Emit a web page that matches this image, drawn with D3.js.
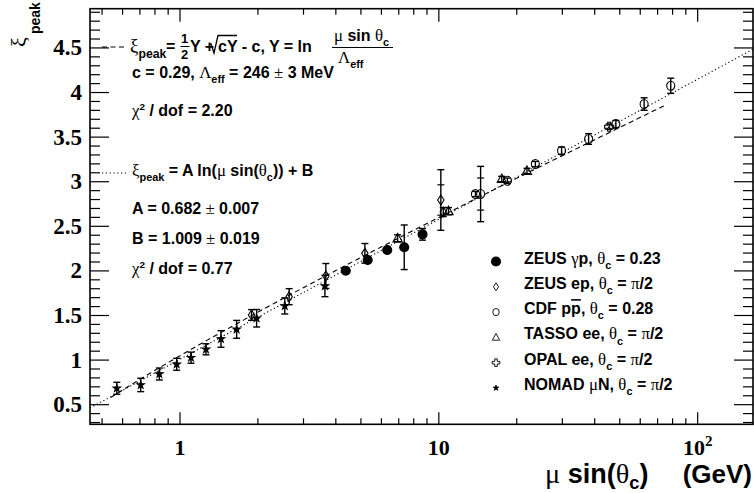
<!DOCTYPE html>
<html><head><meta charset="utf-8">
<script src="https://cdn.jsdelivr.net/npm/d3@7"></script>
<style>body{margin:0;background:#fff} svg{display:block}</style>
</head><body>
<svg id="c" width="754" height="493"></svg>
<script>
// ---------------- data ----------------
const zeusGpX = [4.37, 5.31, 6.32, 7.35, 8.65];
const zeusGpY = [2.002, 2.122, 2.234, 2.265, 2.410];
const zeusGpErr = [0, 0, 0, 0.25, 0.065];

const zeusEpX = [1.89, 2.64, 3.66, 5.18, 10.18, 10.4];
const zeusEpY = [1.506, 1.711, 1.943, 2.197, 2.795, 2.66];
const zeusEpErr = [0.06, 0.09, 0.14, 0.11, 0.34, 0.05];
const zeusEpStat = [0, 0, 0, 0, 0.17, 0];

const cdfX = [13.85, 14.5, 18.4, 23.6, 29.8, 37.9, 48.3, 62.1, 78.7];
const cdfY = [2.862, 2.862, 3.011, 3.198, 3.348, 3.479, 3.647, 3.871, 4.076];
const cdfErr = [0.03, 0.31, 0.03, 0.03, 0.04, 0.06, 0.04, 0.07, 0.085];
const cdfStat = [0, 0.18, 0, 0, 0, 0, 0, 0, 0];

const tassoX = [6.93, 10.9, 17.5, 21.9];
const tassoY = [2.365, 2.67, 3.03, 3.12];
const tassoErr = [0.04, 0.04, 0.03, 0.03];

const opalX = [45.5];
const opalY = [3.617];
const opalErr = [0.03];

const nomadX = [0.57, 0.705, 0.832, 0.971, 1.103, 1.26, 1.44, 1.655, 1.977, 2.54, 3.63];
const nomadY = [0.684, 0.721, 0.844, 0.953, 1.027, 1.121, 1.237, 1.345, 1.469, 1.607, 1.831];
const nomadErr = [0.067, 0.075, 0.067, 0.067, 0.062, 0.062, 0.093, 0.10, 0.098, 0.09, 0.12];

// fit parameters (from the chart)
const fitA = 0.682, fitB = 1.009;
const fitC = 0.29, fitLambda = 0.246;
const dashedRange = [0.54, 75];

const yTickLabels = ["0.5","1","1.5","2","2.5","3","3.5","4","4.5"];
const yTickValues = [0.5,1,1.5,2,2.5,3,3.5,4,4.5];
const xTickValues = [1, 10, 100];
const xTickBase = ["1","10","10"];
const xTickSup = ["","","2"];

const legendLabels = [
  [["s","ZEUS "],["r","γ"],["s","p, "],["r","θ"],["sub","c"],["s"," = 0.23"]],
  [["s","ZEUS ep, "],["r","θ"],["sub","c"],["s"," = "],["r","π"],["s","/2"]],
  [["s","CDF p"],["over","p"],["s",", "],["r","θ"],["sub","c"],["s"," = 0.28"]],
  [["s","TASSO ee, "],["r","θ"],["sub","c"],["s"," = "],["r","π"],["s","/2"]],
  [["s","OPAL ee, "],["r","θ"],["sub","c"],["s"," = "],["r","π"],["s","/2"]],
  [["s","NOMAD "],["r","μ"],["s","N, "],["r","θ"],["sub","c"],["s"," = "],["r","π"],["s","/2"]]
];

// ---------------- setup ----------------
const SANS = "'Liberation Sans', Arial, Helvetica, sans-serif";
const SERIF = "'Liberation Serif', 'Times New Roman', serif";
const svg = d3.select("#c");
const L = 90, R = 753, T = 8.7, B = 424.3;
const x = d3.scaleLog().domain([0.449, 163.6]).range([L, R]);
const y = d3.scaleLinear().domain([0.28, 4.94]).range([B, T]);

svg.append("rect").attr("width",754).attr("height",493).attr("fill","#fff");

// ---------------- ticks ----------------
const tg = svg.append("g").attr("stroke","#000").attr("stroke-width",1.2);
d3.range(3, 50).forEach(i => {
  const v = i / 10;
  const major = (i % 5 === 0);
  const len = major ? 19 : 10;
  const yy = y(v);
  tg.append("line").attr("x1",L).attr("x2",L+len).attr("y1",yy).attr("y2",yy);
  tg.append("line").attr("x1",R-len).attr("x2",R).attr("y1",yy).attr("y2",yy);
});
[0.1, 1, 10, 100].forEach(d => {
  for (let k = 1; k <= 9; k++) {
    const v = k * d;
    if (v < x.domain()[0] || v > x.domain()[1]) continue;
    const major = (k === 1);
    const xx = x(v);
    tg.append("line").attr("x1",xx).attr("x2",xx).attr("y1",B).attr("y2",B-(major?12:6));
    tg.append("line").attr("x1",xx).attr("x2",xx).attr("y1",T).attr("y2",T+(major?13:6));
  }
});
svg.append("rect").attr("x",L).attr("y",T).attr("width",R-L).attr("height",B-T)
  .attr("fill","none").attr("stroke","#000").attr("stroke-width",1.6);

// tick labels
yTickValues.forEach((v,i) => {
  svg.append("text").attr("x",82).attr("y",y(v)+7.5).attr("text-anchor","end")
    .attr("font-family",SERIF).attr("font-weight","bold").attr("font-size",23)
    .text(yTickLabels[i]);
});
xTickValues.forEach((v,i) => {
  const t = svg.append("text").attr("x",x(v)).attr("y",455).attr("text-anchor","middle")
    .attr("font-family",SERIF).attr("font-weight","bold").attr("font-size",22);
  t.append("tspan").text(xTickBase[i]);
  if (xTickSup[i]) t.append("tspan").attr("dy",-9).attr("font-size",15).text(xTickSup[i]);
});

// ---------------- fit curves ----------------
const fitLog = v => fitA*Math.log(v) + fitB;
const fitDla = v => { const Y = Math.log(v/fitLambda); return 0.5*Y + Math.sqrt(fitC*Y) - fitC; };
const sampleLog = (a,b,n) => d3.range(n+1).map(i => Math.exp(Math.log(a) + (Math.log(b)-Math.log(a))*i/n));
const line = d3.line().x(d => x(d[0])).y(d => y(d[1]));
svg.append("path").attr("d", line(sampleLog(x.domain()[0], x.domain()[1], 200).map(v => [v, fitLog(v)])))
  .attr("fill","none").attr("stroke","#000").attr("stroke-width",1.1).attr("stroke-dasharray","1.2,2.6");
svg.append("path").attr("d", line(sampleLog(dashedRange[0], dashedRange[1], 200).map(v => [v, fitDla(v)])))
  .attr("fill","none").attr("stroke","#000").attr("stroke-width",1.1).attr("stroke-dasharray","5,3.5");

// ---------------- markers ----------------
const shapes = {
  fcircle: "M0,-4.5A4.5,4.5 0 1,1 0,4.5A4.5,4.5 0 1,1 0,-4.5Z",
  diamond: "M0,-5L3.2,0L0,5L-3.2,0Z",
  ocircle: "M0,-4.5A4,4.5 0 1,1 0,4.5A4,4.5 0 1,1 0,-4.5Z",
  triangle: "M0,-5L4.6,3.5L-4.6,3.5Z",
  cross: "M-1.5,-4.5H1.5V-1.5H4.5V1.5H1.5V4.5H-1.5V1.5H-4.5V-1.5H-1.5Z",
  star: d3.symbol(d3.symbolStar, 17)()
};
const filled = {fcircle:true, star:true};

function drawSeries(xs, ys, errs, stats, shape) {
  const g = svg.append("g");
  xs.forEach((xv,i) => {
    const px = x(xv), py = y(ys[i]);
    const e = errs[i];
    if (e > 0) {
      const y1 = y(ys[i]+e), y2 = y(ys[i]-e);
      g.append("line").attr("x1",px).attr("x2",px).attr("y1",y1).attr("y2",y2)
        .attr("stroke","#000").attr("stroke-width",1.4);
      [y1,y2].forEach(yy => g.append("line").attr("x1",px-3.5).attr("x2",px+3.5)
        .attr("y1",yy).attr("y2",yy).attr("stroke","#000").attr("stroke-width",1.4));
    }
    const s = stats ? stats[i] : 0;
    if (s > 0) {
      [y(ys[i]+s), y(ys[i]-s)].forEach(yy => g.append("line").attr("x1",px-3.5).attr("x2",px+3.5)
        .attr("y1",yy).attr("y2",yy).attr("stroke","#000").attr("stroke-width",1.2));
    }
  });
  xs.forEach((xv,i) => {
    g.append("path").attr("d",shapes[shape])
      .attr("transform",`translate(${x(xv)},${y(ys[i])})`)
      .attr("fill", filled[shape] ? "#000" : "none")
      .attr("stroke","#000").attr("stroke-width",1.1);
  });
}
drawSeries(nomadX, nomadY, nomadErr, null, "star");
drawSeries(zeusEpX, zeusEpY, zeusEpErr, zeusEpStat, "diamond");
drawSeries(tassoX, tassoY, tassoErr, null, "triangle");
drawSeries(opalX, opalY, opalErr, null, "cross");
drawSeries(cdfX, cdfY, cdfErr, cdfStat, "ocircle");
drawSeries(zeusGpX, zeusGpY, zeusGpErr, null, "fcircle");

// ---------------- rich text helper ----------------
function rich(px, py, parts, size, anchor, subShift) {
  const t = svg.append("text").attr("x",px).attr("y",py)
    .attr("font-size",size).attr("text-anchor",anchor||"start").attr("xml:space","preserve");
  const subOff = subShift != null ? subShift : size*0.33;
  let shift = 0;
  parts.forEach(([kind, str]) => {
    const sp = t.append("tspan").text(str);
    let dy = 0;
    if (kind === "s") { sp.attr("font-family",SANS).attr("font-weight","bold"); dy = -shift; shift = 0; }
    else if (kind === "r") { sp.attr("font-family",SERIF).attr("font-size",size*1.05); dy = -shift; shift = 0; }
    else if (kind === "sub") { sp.attr("font-family",SANS).attr("font-weight","bold").attr("font-size",size*0.68); dy = subOff - shift; shift = subOff; }
    else if (kind === "sup") { sp.attr("font-family",SANS).attr("font-weight","bold").attr("font-size",size*0.62); dy = -size*0.4 - shift; shift = -size*0.4; }
    else if (kind === "over") { sp.attr("font-family",SANS).attr("font-weight","bold").attr("text-decoration","overline"); dy = -shift; shift = 0; }
    if (dy) sp.attr("dy", dy);
  });
  return t;
}

// ---------------- top-left fit legend ----------------
const FS = 16;
svg.append("line").attr("x1",102).attr("x2",124).attr("y1",47).attr("y2",47)
  .attr("stroke","#000").attr("stroke-width",1.1).attr("stroke-dasharray","5,3.5");
rich(130, 52, [["r","ξ"],["sub","peak"]], FS+2);
rich(166, 52, [["s","="]], FS);
rich(181, 43, [["s","1"]], 13);
rich(181, 59, [["s","2"]], 13);
svg.append("line").attr("x1",180.5).attr("x2",189.5).attr("y1",46.5).attr("y2",46.5).attr("stroke","#000").attr("stroke-width",1);
rich(190, 52, [["s","Y +"]], FS);
// square root
svg.append("path").attr("d","M209,45 L211,44 L214,53 L218,35.5 L237,35.5")
  .attr("fill","none").attr("stroke","#000").attr("stroke-width",1.3);
rich(218, 52, [["s","cY - c, Y = ln"]], FS);
rich(334, 41, [["r","μ"],["s"," sin "],["r","θ"],["sub","c"]], FS);
svg.append("line").attr("x1",332).attr("x2",393).attr("y1",47.5).attr("y2",47.5).attr("stroke","#000").attr("stroke-width",1.1);
rich(338, 63, [["r","Λ"],["sub","eff"]], FS);

rich(132, 78, [["s","c = 0.29, "],["r","Λ"],["sub","eff"],["s"," = 246 "],["r","±"],["s"," 3 MeV"]], FS);
rich(132, 116, [["r","χ"],["sup","2"],["s"," / dof = 2.20"]], FS);

svg.append("line").attr("x1",102).attr("x2",126).attr("y1",173).attr("y2",173)
  .attr("stroke","#000").attr("stroke-width",1.1).attr("stroke-dasharray","1.2,2.6");
rich(132, 176, [["r","ξ"],["sub","peak"],["s"," = A ln("],["r","μ"],["s"," sin("],["r","θ"],["sub","c"],["s","))"],["s"," + B"]], FS);
rich(132, 214, [["s","A = 0.682"],["r"," ±"],["s"," 0.007"]], FS);
rich(132, 244, [["s","B = 1.009"],["r"," ±"],["s"," 0.019"]], FS);
rich(132, 274, [["r","χ"],["sup","2"],["s"," / dof = 0.77"]], FS);

// ---------------- right legend ----------------
const legShapes = ["fcircle","diamond","ocircle","triangle","cross","star"];
const legScale = [1, 0.8, 0.8, 0.8, 0.85, 0.75];
legendLabels.forEach((parts,i) => {
  const by = 263.5 + 25.3*i;
  svg.append("path").attr("d",shapes[legShapes[i]])
    .attr("transform",`translate(496,${by-2}) scale(${legScale[i]})`)
    .attr("fill", filled[legShapes[i]] ? "#000" : "none")
    .attr("stroke","#000").attr("stroke-width",1.1);
  rich(524, by, parts, 16);
});

// ---------------- axis titles ----------------
rich(545, 483, [["r","μ"],["s"," sin("],["r","θ"],["sub","c"],["s",")"]], 27, "start", 6);
rich(752, 483, [["s","(GeV)"]], 26, "end");
svg.append("text").attr("transform","translate(26,47) rotate(-90)")
  .attr("font-family",SERIF).attr("font-size",22).text("ξ");
svg.append("text").attr("transform","translate(40,34) rotate(-90)")
  .attr("font-family",SANS).attr("font-weight","bold").attr("font-size",14).text("peak");
</script>
</body></html>
